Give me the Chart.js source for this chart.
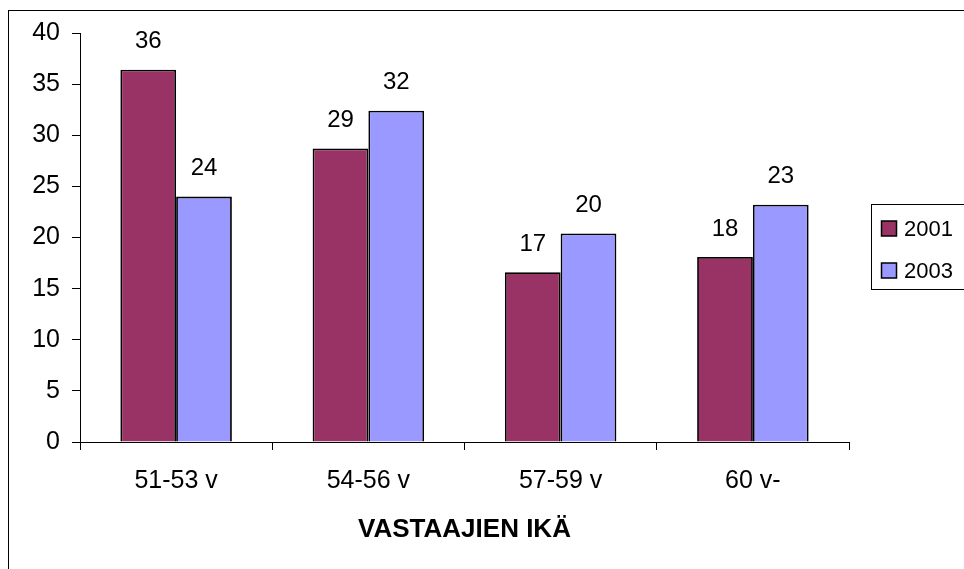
<!DOCTYPE html>
<html>
<head>
<meta charset="utf-8">
<script src="https://cdn.jsdelivr.net/npm/chart.js@4"></script>
<style>
html,body{margin:0;padding:0;background:#fff;overflow:hidden;}
#wrap{width:964px;height:569px;position:relative;}
</style>
</head>
<body>
<div id="wrap"><canvas id="c" width="964" height="569"></canvas></div>
<script>
const categories = ["51-53 v", "54-56 v", "57-59 v", "60 v-"];
const seriesNames = ["2001", "2003"];
const values2001 = [36.4, 28.7, 16.6, 18.1];
const values2003 = [24.0, 32.4, 20.4, 23.2];
const yTicks = [0, 5, 10, 15, 20, 25, 30, 35, 40];
const colors = ["#993366", "#9999FF"];
const FONT = "'Liberation Sans', Arial, sans-serif";

const framePlugin = {
  id: 'frame',
  beforeDraw(chart) {
    const ctx = chart.ctx;
    ctx.save();
    ctx.fillStyle = '#fff';
    ctx.fillRect(0, 0, chart.width, chart.height);
    ctx.strokeStyle = '#000';
    ctx.lineWidth = 1;
    ctx.strokeRect(8.5, 10.5, 2000, 2000);
    ctx.restore();
  }
};

const labelsPlugin = {
  id: 'dlabels',
  afterDatasetsDraw(chart) {
    const ctx = chart.ctx;
    ctx.save();
    ctx.font = "24px " + FONT;
    ctx.fillStyle = '#000';
    ctx.textAlign = 'center';
    ctx.textBaseline = 'middle';
    chart.data.datasets.forEach((ds, i) => {
      const meta = chart.getDatasetMeta(i);
      meta.data.forEach((bar, j) => {
        ctx.fillText(String(Math.round(ds.data[j])), bar.x, bar.y - 28);
      });
    });
    ctx.restore();
  }
};

const legendPlugin = {
  id: 'customLegend',
  afterDraw(chart) {
    const ctx = chart.ctx;
    ctx.save();
    ctx.strokeStyle = '#000';
    ctx.lineWidth = 1;
    ctx.strokeRect(871.5, 204.5, 200, 85);
    ctx.font = "22px " + FONT;
    ctx.textBaseline = 'middle';
    ctx.textAlign = 'left';
    chart.data.datasets.forEach((ds, i) => {
      const cy = 228.5 + i * 42;
      ctx.fillStyle = ds.backgroundColor;
      ctx.fillRect(881.5, cy - 7.5, 15, 15);
      ctx.lineWidth = 1.5;
      ctx.strokeRect(881.5, cy - 7.5, 15, 15);
      ctx.fillStyle = '#000';
      ctx.fillText(ds.label, 904, cy + 1);
    });
    ctx.restore();
  }
};

new Chart(document.getElementById('c'), {
  type: 'bar',
  data: {
    labels: categories,
    datasets: [
      { label: seriesNames[0], data: values2001, backgroundColor: colors[0], borderColor: '#000', borderWidth: 1.8 },
      { label: seriesNames[1], data: values2003, backgroundColor: colors[1], borderColor: '#000', borderWidth: 1.8 }
    ]
  },
  options: {
    responsive: false,
    animation: false,
    devicePixelRatio: 1,
    layout: { padding: { left: 10, right: 115, top: 33, bottom: 24 } },
    plugins: { legend: { display: false }, tooltip: { enabled: false } },
    datasets: { bar: { barPercentage: 1.0, categoryPercentage: 0.58 } },
    scales: {
      y: {
        min: 0, max: 40,
        afterBuildTicks(scale) { scale.ticks = yTicks.map(v => ({ value: v })); },
        afterFit(scale) { scale.width = 70; },
        ticks: { color: '#000', font: { family: FONT, size: 25 }, padding: 12 },
        grid: { drawOnChartArea: false, drawTicks: true, tickLength: 8, color: '#000' },
        border: { display: true, color: '#000', width: 1 }
      },
      x: {
        afterFit(scale) { scale.height = 103; },
        ticks: { color: '#000', font: { family: FONT, size: 25 }, padding: 16, maxRotation: 0 },
        grid: { drawOnChartArea: false, drawTicks: true, tickLength: 8, color: '#000', offset: true },
        border: { display: true, color: '#000', width: 1 },
        title: { display: true, text: 'VASTAAJIEN IKÄ', color: '#000', font: { family: FONT, size: 26, weight: 'bold' }, padding: { top: 19, bottom: 0 } }
      }
    }
  },
  plugins: [framePlugin, labelsPlugin, legendPlugin]
});
</script>
</body>
</html>
